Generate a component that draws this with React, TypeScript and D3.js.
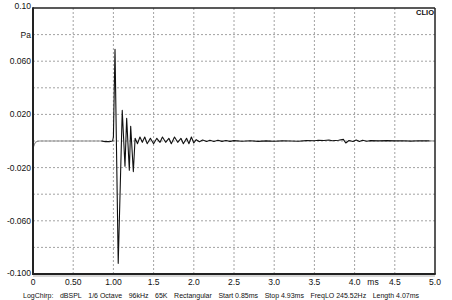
import React from "react";
import * as d3 from "d3";

// time in ms, value in Pa
const timeMs: number[] = [
  0, 0.01, 0.02, 0.04, 0.08, 0.3, 0.6, 0.85,
  0.9, 0.95, 0.99, 1.0, 1.02, 1.06, 1.11, 1.144, 1.165, 1.198, 1.215, 1.248, 1.27,
  1.30, 1.33, 1.36, 1.39, 1.42, 1.46, 1.50, 1.54, 1.58, 1.61, 1.65, 1.69, 1.72, 1.76,
  1.80, 1.84, 1.87, 1.91, 1.94, 1.97, 2.00, 2.03, 2.07, 2.11, 2.16, 2.20, 2.25, 2.30,
  2.35, 2.40, 2.45, 2.50, 2.6, 2.7, 2.8, 2.9, 3.0, 3.1, 3.2, 3.3, 3.4, 3.5, 3.55,
  3.62, 3.68, 3.72, 3.8, 3.86, 3.89, 3.93, 3.98, 4.02, 4.06, 4.10, 4.15, 4.2, 4.3,
  4.4, 4.5, 4.6, 4.7, 4.8, 4.93, 5.0,
];
const valuePa: number[] = [
  0, -0.004, -0.002, -0.0005, 0, 0, 0, 0,
  -0.0005, -0.0005, 0, 0.003, 0.069, -0.092, 0.023, -0.019, 0.017, -0.022, 0.011, -0.023, 0.002,
  -0.002, 0.003, -0.001, 0.003, -0.002, 0.002, -0.002, 0.002, -0.001, 0.003, -0.001, 0.002, -0.002, 0.003,
  -0.001, 0.002, -0.002, 0.002, -0.002, 0.003, -0.0015, 0.001, -0.0005, 0.0008, -0.0004, 0.0006, -0.0004, 0.0005,
  -0.0003, 0.0004, -0.0003, 0.0003, -0.0002, 0.0002, -0.0003, 0.0001, -0.0002, 0.0001, 0, -0.0002, 0.0003, 0.0002, 0.0006,
  0.0004, 0.0008, 0.0002, 0.0006, 0.0012, -0.0015, 0.0004, -0.0004, 0.0008, -0.0004, 0.0006, -0.0002, 0.0003, 0.0001,
  0.0003, 0.0001, 0.0002, -0.0001, 0.0002, 0.0001, 0,
];
const windowStart = 0.85;
const windowStop = 4.93;

const xTicks: number[] = [0, 0.5, 1.0, 1.5, 2.0, 2.5, 3.0, 3.5, 4.0, 4.5, 5.0];
const xTickLabels: string[] = ["0", "0.50", "1.00", "1.5", "2.0", "2.5", "3.0", "3.5", "4.0", "4.5", "5.0"];
const yGrid: number[] = [0.08, 0.06, 0.04, 0.02, 0, -0.02, -0.04, -0.06, -0.08];
const yLabelValues: number[] = [0.1, 0.08, 0.06, 0.02, -0.02, -0.06, -0.1];
const yLabels: string[] = ["0.10", "Pa", "0.060", "0.020", "-0.020", "-0.060", "-0.100"];
const footerItems: string[] = [
  "LogChirp:", "dBSPL", "1/6 Octave", "96kHz", "65K", "Rectangular",
  "Start 0.85ms", "Stop 4.93ms", "FreqLO 245.52Hz", "Length 4.07ms",
];

// approximate Arial/Liberation Sans advance widths (per 1000 em)
function textWidth(s: string, size: number): number {
  const w: Record<string, number> = {
    " ": 278, ".": 278, ":": 278, "/": 278, "0": 556, "1": 556, "2": 556, "3": 556, "4": 556,
    "5": 556, "6": 556, "7": 556, "8": 556, "9": 556, L: 556, o: 556, g: 556, C: 722, h: 556,
    i: 222, r: 333, p: 556, d: 556, B: 667, S: 667, P: 667, O: 778, c: 500, t: 278, a: 556,
    v: 500, e: 556, k: 500, H: 722, z: 500, K: 667, R: 722, n: 556, u: 556, l: 222, m: 833,
    s: 500, F: 611, q: 556,
  };
  let sum = 0;
  for (const ch of s) sum += w[ch] ?? 556;
  return (sum / 1000) * size;
}

export default function App() {
  const W = 452, H = 300;
  const L = 33, R = 435, T = 8, B = 274;
  const x = d3.scaleLinear().domain([0, 5]).range([L, R]);
  const y = d3.scaleLinear().domain([-0.1, 0.1]).range([B, T]);
  const pts = timeMs.map((t, i) => ({ t, v: valuePa[i] }));
  const line = d3.line<{ t: number; v: number }>().x(d => x(d.t)).y(d => y(d.v));
  const pre = pts.filter(p => p.t <= windowStart);
  const mid = pts.filter(p => p.t >= windowStart && p.t <= windowStop);
  const post = pts.filter(p => p.t >= windowStop);
  const font = "Liberation Sans, Arial, sans-serif";

  const fSize = 7;
  const fStart = 23, fEnd = 419;
  const widths = footerItems.map(s => textWidth(s, fSize));
  const gap = (fEnd - fStart - d3.sum(widths)) / (footerItems.length - 1);
  const footerX: number[] = [];
  let cx = fStart;
  widths.forEach(w => { footerX.push(cx); cx += w + gap; });

  return (
    <svg width={W} height={H} style={{ position: "absolute", left: 0, top: 0, background: "#fff" }}>
      <rect x={0} y={0} width={W} height={H} fill="#fff" />
      {xTicks.slice(1, -1).map((t, i) => (
        <line key={"gx" + i} x1={x(t)} x2={x(t)} y1={T} y2={B} stroke="#8a8a8a" strokeWidth={0.8} strokeDasharray="2,2" />
      ))}
      {yGrid.map((v, i) => (
        <line key={"gy" + i} x1={L} x2={R} y1={y(v)} y2={y(v)} stroke="#8a8a8a" strokeWidth={0.8} strokeDasharray="2,2" />
      ))}
      <path d={line(pre) || ""} fill="none" stroke="#8c8c8c" strokeWidth={1.1} />
      <path d={line(post) || ""} fill="none" stroke="#8c8c8c" strokeWidth={1.1} />
      <path d={line(mid) || ""} fill="none" stroke="#111" strokeWidth={1.1} strokeLinejoin="round" />
      <line x1={L} x2={R} y1={B + 2} y2={B + 2} stroke="#c8c8c8" strokeWidth={1.5} />
      <line x1={L} x2={R} y1={T} y2={T} stroke="#222" strokeWidth={1.5} />
      <line x1={R} x2={R} y1={T} y2={B} stroke="#222" strokeWidth={1.5} />
      <line x1={L} x2={R + 0.75} y1={B} y2={B} stroke="#222" strokeWidth={2} />
      <line x1={L} x2={L} y1={T - 0.75} y2={B + 1} stroke="#222" strokeWidth={2} />
      <text x={434} y={12} fontFamily={font} fontWeight="bold" fontSize={7.5} textAnchor="end" dominantBaseline="central" fill="#111">CLIO</text>
      {yLabelValues.map((v, i) => {
        let yy = y(v);
        if (i === 0) yy -= 2.3;
        if (i === yLabelValues.length - 1) yy -= 1.3;
        return (
          <text key={"yl" + i} x={31} y={yy} fontFamily={font} fontSize={8.5} textAnchor="end" dominantBaseline="central" fill="#111">{yLabels[i]}</text>
        );
      })}
      {xTicks.map((t, i) => (
        <text key={"xl" + i} x={x(t)} y={282} fontFamily={font} fontSize={8.5} textAnchor="middle" dominantBaseline="central" fill="#111">{xTickLabels[i]}</text>
      ))}
      <text x={373} y={282} fontFamily={font} fontSize={8.5} textAnchor="middle" dominantBaseline="central" fill="#111">ms</text>
      {footerItems.map((s, i) => (
        <text key={"ft" + i} x={footerX[i]} y={295.5} fontFamily={font} fontSize={fSize} dominantBaseline="central" fill="#111">{s}</text>
      ))}
    </svg>
  );
}
